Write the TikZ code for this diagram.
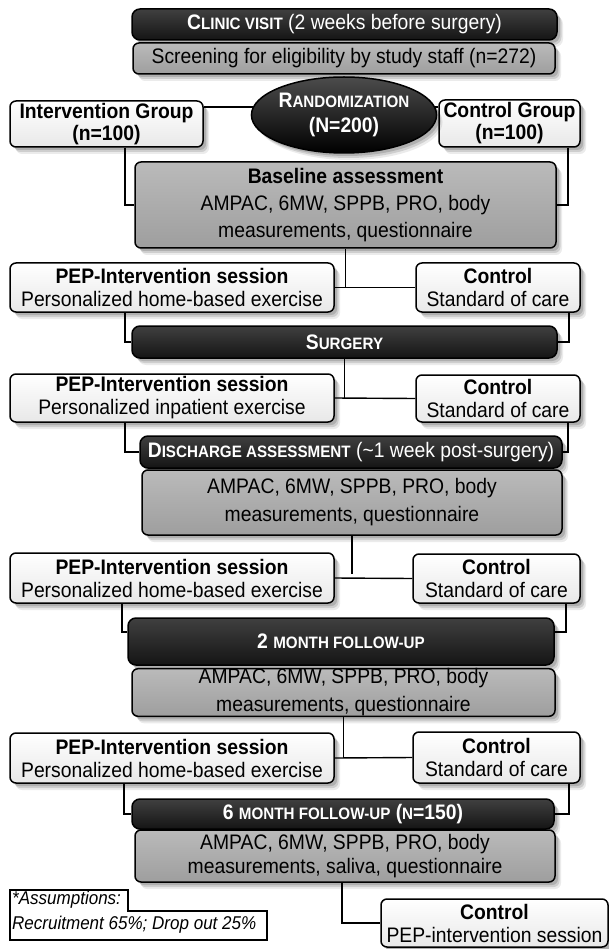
\documentclass[tikz,border=0pt]{standalone}
\usepackage{fontspec}
\setmainfont{Liberation Sans}[FakeStretch=0.92]
\usetikzlibrary{shapes.geometric,shadows}
\pgfdeclarelayer{bg}
\pgfsetlayers{bg,main}
\newcommand{\mysc}[2]{#1{\fontsize{16.5}{18}\selectfont #2}}
\tikzset{
  shad/.style={
    drop shadow={shadow xshift=6pt, shadow yshift=-7pt, opacity=0.08, fill=black},
    drop shadow={shadow xshift=4.5pt, shadow yshift=-5pt, opacity=0.12, fill=black},
    drop shadow={shadow xshift=3pt, shadow yshift=-3pt, opacity=0.15, fill=black}},
  boxbase/.style={draw=black, line width=1.5pt, rounded corners=6pt, inner sep=0pt, align=center,
    shad, font=\fontsize{21}{23}\selectfont},
  lightbox/.style={boxbase, top color=white, bottom color=black!9},
  greybox/.style={boxbase, top color=black!27, bottom color=black!38},
  barbox/.style={boxbase, rounded corners=8pt, top color=black!75, middle color=black, bottom color=black!92, text=white},
  conn/.style={draw=black, line width=1.4pt},
}
\begin{document}
\begin{tikzpicture}[x=1pt, y=-1pt]
\useasboundingbox (0,0) rectangle (609,949);
\begin{pgfonlayer}{bg}
\fill[white] (0,0) rectangle (609,949);
\end{pgfonlayer}

% top
\node[barbox, minimum width=425pt, minimum height=31pt] (clinic) at (344.5,24.5)
  {{\bfseries\mysc{C}{LINIC VISIT}} (2 weeks before surgery)};
\node[greybox, minimum width=422pt, minimum height=31pt] (screen) at (344,58.5)
  {Screening for eligibility by study staff (n=272)};

\node[lightbox, minimum width=193pt, minimum height=46pt, font=\fontsize{21}{22}\selectfont\bfseries] (intg) at (106.5,124)
  {Intervention Group\\(n=100)};
\node[lightbox, minimum width=141pt, minimum height=47pt, font=\fontsize{21}{22}\selectfont\bfseries] (ctlg) at (509.5,123.5)
  {Control Group\\(n=100)};
\node[ellipse, draw=black, line width=1.5pt, top color=black!70, middle color=black, bottom color=black,
  minimum width=162pt, minimum height=76pt, inner sep=0pt, align=center, text=white, shad,
  font=\fontsize{21}{25}\selectfont\bfseries] (rand) at (344,115)
  {\mysc{R}{ANDOMIZATION}\\(N=200)};

\node[greybox, minimum width=421pt, minimum height=86pt, font=\fontsize{21}{27}\selectfont] (base) at (345.5,205)
  {\textbf{Baseline assessment}\\AMPAC, 6MW, SPPB, PRO, body\\measurements, questionnaire};

\node[lightbox, minimum width=324pt, minimum height=49pt] (pep1) at (172,287.5)
  {\textbf{PEP-Intervention session}\\Personalized home-based exercise};
\node[lightbox, minimum width=164pt, minimum height=49pt] (ctl1) at (498,287.5)
  {\textbf{Control}\\Standard of care};

\node[barbox, minimum width=425pt, minimum height=32pt] (surg) at (344.5,342)
  {\bfseries\mysc{S}{URGERY}};

\node[lightbox, minimum width=324pt, minimum height=48pt] (pep2) at (172,398)
  {\textbf{PEP-Intervention session}\\Personalized inpatient exercise};
\node[lightbox, minimum width=164pt, minimum height=47pt] (ctl2) at (498,398.5)
  {\textbf{Control}\\Standard of care};

\node[barbox, minimum width=422pt, minimum height=32pt] (disc) at (351,452)
  {{\bfseries\mysc{D}{ISCHARGE ASSESSMENT}} (\textasciitilde1 week post-surgery)};
\node[greybox, minimum width=420pt, minimum height=65pt, font=\fontsize{21}{28}\selectfont] (dgray) at (352,502.5)
  {AMPAC, 6MW, SPPB, PRO, body\\measurements, questionnaire};

\node[lightbox, minimum width=324pt, minimum height=50pt] (pep3) at (172,578)
  {\textbf{PEP-Intervention session}\\Personalized home-based exercise};
\node[lightbox, minimum width=167pt, minimum height=49pt] (ctl3) at (496.5,578.5)
  {\textbf{Control}\\Standard of care};

\node[barbox, minimum width=426pt, minimum height=47pt] (m2) at (341,641.5)
  {\bfseries\mysc{2 }{MONTH FOLLOW-UP}};
\node[greybox, minimum width=423pt, minimum height=47pt, font=\fontsize{21}{28}\selectfont] (m2gray) at (343.5,692.5)
  {AMPAC, 6MW, SPPB, PRO, body\\measurements, questionnaire};

\node[lightbox, minimum width=324pt, minimum height=50pt] (pep4) at (172,758)
  {\textbf{PEP-Intervention session}\\Personalized home-based exercise};
\node[lightbox, minimum width=167pt, minimum height=51pt] (ctl4) at (496.5,757.5)
  {\textbf{Control}\\Standard of care};

\node[barbox, minimum width=422pt, minimum height=30pt] (m6) at (343,814)
  {\bfseries\mysc{6 }{MONTH FOLLOW-UP} (\mysc{}{N}=150)};
\node[greybox, minimum width=420pt, minimum height=52pt, font=\fontsize{21}{24}\selectfont] (m6gray) at (345,856)
  {AMPAC, 6MW, SPPB, PRO, body\\measurements, saliva, questionnaire};

\node[lightbox, minimum width=227pt, minimum height=48pt] (fctl) at (494.5,923)
  {\textbf{Control}\\PEP-intervention session};

% assumptions
\draw[line width=1.3pt, fill=white] (10,890) -- (128,890) -- (128,911) -- (267,911) -- (267,940) -- (10,940) -- cycle;
\node[anchor=west, inner sep=0pt, font=\fontsize{18.5}{20}\selectfont\itshape] (as1) at (12,900) {*Assumptions:};
\node[anchor=west, inner sep=0pt, font=\fontsize{18.5}{20}\selectfont\itshape] (as2) at (12,925) {Recruitment 65\%; Drop out 25\%};

% connectors
\begin{pgfonlayer}{bg}
\draw[conn] ([yshift=17pt]intg.east) -- ([yshift=17pt]intg.east -| rand.center);
\draw[conn] ([yshift=16.5pt]ctlg.west) -- ([yshift=16.5pt]ctlg.west -| rand.center);
\draw[conn] ([xshift=18.5pt]intg.south) |- (base.west);
\draw[conn] ([xshift=58.5pt]ctlg.south) |- (base.east);

\draw[conn] (base.south) -- (base.south |- pep1.east);
\draw[conn] (pep1.east) -- (ctl1.west);
\draw[conn] ([xshift=-47pt]pep1.south) |- (surg.west);
\draw[conn] ([xshift=71pt]ctl1.south) |- (surg.east);

\draw[conn] (surg.south) -- (surg.south |- pep2.east);
\draw[conn] (pep2.east) -- (ctl2.west);
\draw[conn] ([xshift=-47pt]pep2.south) |- (disc.west);
\draw[conn] ([xshift=70pt]ctl2.south) |- (disc.east);

\coordinate (gap) at ([yshift=-38pt]dgray.south);
\draw[conn] (dgray.south) -- (gap);
\draw[conn] (pep3.east) -- (ctl3.west);
\draw[conn] ([xshift=-50pt]pep3.south) |- ([yshift=9.5pt]m2.west);
\draw[conn] ([xshift=69.5pt]ctl3.south) |- ([yshift=9.5pt]m2.east);

\draw[conn] (m2gray.south) -- (m2gray.south |- pep4.east);
\draw[conn] (pep4.east) -- (ctl4.west);
\draw[conn] ([xshift=-48pt]pep4.south) |- (m6.west);
\draw[conn] ([xshift=72.5pt]ctl4.south) |- (m6.east);

\draw[conn] ([xshift=-3pt]m6gray.south) |- (fctl.west);
\end{pgfonlayer}
\end{tikzpicture}
\end{document}
